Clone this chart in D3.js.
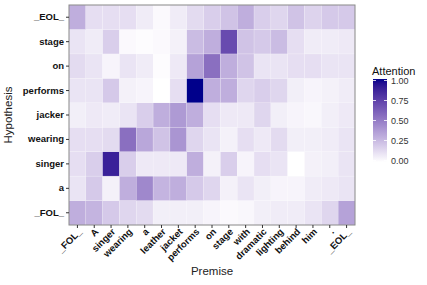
<!DOCTYPE html>
<html>
<head>
<meta charset="utf-8">
<script src="https://cdn.jsdelivr.net/npm/d3@7"></script>
<style>
  body { margin: 0; background: #fff; }
  text { font-family: "Liberation Sans", Arial, sans-serif; }
</style>
</head>
<body>
<div id="chart"></div>
<script>
// premise tokens (x) and hypothesis tokens (y, bottom -> top)
const premise = ["_FOL_", "A", "singer", "wearing", "a", "leather", "jacket", "performs", "on", "stage", "with", "dramatic", "lighting", "behind", "him", ".", "_EOL_"];
const hypothesis = ["_FOL_", "a", "singer", "wearing", "jacker", "performs", "on", "stage", "_EOL_"];

// attention rows, one per hypothesis token, in premise order
const attFOL      = [0.30, 0.28, 0.20, 0.15, 0.13, 0.06, 0.06, 0.06, 0.04, 0.02, 0.03, 0.06, 0.07, 0.07, 0.10, 0.15, 0.35];
const attA        = [0.10, 0.20, 0.05, 0.30, 0.45, 0.28, 0.30, 0.20, 0.15, 0.05, 0.10, 0.06, 0.04, 0.04, 0.07, 0.08, 0.10];
const attSinger   = [0.12, 0.18, 0.88, 0.18, 0.08, 0.08, 0.08, 0.30, 0.05, 0.18, 0.04, 0.12, 0.10, 0.00, 0.05, 0.06, 0.10];
const attWearing  = [0.12, 0.12, 0.13, 0.55, 0.33, 0.22, 0.40, 0.15, 0.10, 0.05, 0.12, 0.08, 0.13, 0.06, 0.06, 0.07, 0.10];
const attJacker   = [0.06, 0.08, 0.07, 0.10, 0.18, 0.30, 0.38, 0.30, 0.12, 0.08, 0.08, 0.15, 0.06, 0.04, 0.03, 0.06, 0.08];
const attPerforms = [0.10, 0.10, 0.20, 0.05, 0.04, 0.00, 0.12, 1.00, 0.30, 0.30, 0.15, 0.18, 0.15, 0.06, 0.04, 0.05, 0.07];
const attOn       = [0.13, 0.10, 0.04, 0.10, 0.07, 0.01, 0.08, 0.35, 0.55, 0.30, 0.22, 0.10, 0.10, 0.12, 0.12, 0.10, 0.10];
const attStage    = [0.10, 0.07, 0.18, 0.02, 0.01, 0.02, 0.05, 0.25, 0.30, 0.70, 0.22, 0.20, 0.25, 0.12, 0.07, 0.07, 0.08];
const attEOL      = [0.30, 0.12, 0.12, 0.12, 0.07, 0.02, 0.07, 0.13, 0.18, 0.22, 0.30, 0.18, 0.15, 0.22, 0.16, 0.20, 0.20];
const rows = [attFOL, attA, attSinger, attWearing, attJacker, attPerforms, attOn, attStage, attEOL];

const legendTicks = [0, 0.25, 0.5, 0.75, 1];

const width = 427, height = 285;
const margin = {left: 69, right: 72, top: 5, bottom: 60};

const svg = d3.select("#chart").append("svg")
  .attr("width", width)
  .attr("height", height);

const x = d3.scaleBand().domain(premise).range([margin.left, width - margin.right]).padding(0);
const y = d3.scaleBand().domain(hypothesis).range([height - margin.bottom, margin.top]).padding(0);
const color = d3.scaleLinear().domain([0, 1]).range(["#ffffff", "#00008b"]).interpolate(d3.interpolateLab);

const cells = [];
rows.forEach((r, i) => r.forEach((v, j) => cells.push({h: hypothesis[i], p: premise[j], v: v})));

svg.append("g").selectAll("rect")
  .data(cells)
  .enter().append("rect")
  .attr("x", d => x(d.p))
  .attr("y", d => y(d.h))
  .attr("width", x.bandwidth())
  .attr("height", y.bandwidth())
  .attr("fill", d => color(d.v))
  .attr("stroke", "#ffffff")
  .attr("stroke-opacity", 0.35)
  .attr("stroke-width", 0.5);

// panel border
svg.append("rect")
  .attr("x", margin.left)
  .attr("y", margin.top)
  .attr("width", width - margin.left - margin.right)
  .attr("height", height - margin.top - margin.bottom)
  .attr("fill", "none")
  .attr("stroke", "#888")
  .attr("stroke-width", 1);

// y axis
const yAxis = svg.append("g")
  .attr("transform", `translate(${margin.left},0)`)
  .call(d3.axisLeft(y).tickSize(3).tickPadding(2));
yAxis.select(".domain").remove();
yAxis.selectAll("line").attr("stroke", "#333");
yAxis.selectAll("text")
  .attr("font-size", 9.5)
  .attr("font-weight", "bold")
  .attr("fill", "#111");

// x axis, labels turned 45 degrees
const xAxis = svg.append("g")
  .attr("transform", `translate(0,${height - margin.bottom})`)
  .call(d3.axisBottom(x).tickSize(3).tickPadding(2));
xAxis.select(".domain").remove();
xAxis.selectAll("line").attr("stroke", "#333");
xAxis.selectAll("text")
  .attr("font-size", 9.5)
  .attr("font-weight", "bold")
  .attr("fill", "#111")
  .attr("text-anchor", "end")
  .attr("x", 0)
  .attr("y", 0)
  .attr("dy", "0.35em")
  .attr("transform", "translate(2.5,5) rotate(-45)");

// axis titles
svg.append("text")
  .attr("x", (margin.left + width - margin.right) / 2)
  .attr("y", 275)
  .attr("text-anchor", "middle")
  .attr("font-size", 11.5)
  .attr("fill", "#222")
  .text("Premise");

svg.append("text")
  .attr("transform", `translate(12,${(margin.top + height - margin.bottom) / 2}) rotate(-90)`)
  .attr("text-anchor", "middle")
  .attr("font-size", 11.5)
  .attr("fill", "#222")
  .text("Hypothesis");

// legend
const lg = {x: 373, top: 79, bottom: 162, w: 14};
const ls = d3.scaleLinear().domain([0, 1]).range([lg.bottom - 1.5, lg.top + 1.5]);

const defs = svg.append("defs");
const grad = defs.append("linearGradient")
  .attr("id", "attgrad")
  .attr("x1", 0).attr("y1", 1).attr("x2", 0).attr("y2", 0);
d3.range(0, 1.0001, 0.05).forEach(t => {
  grad.append("stop").attr("offset", t).attr("stop-color", color(t));
});

svg.append("text")
  .attr("x", lg.x - 1)
  .attr("y", 75)
  .attr("font-size", 11)
  .attr("fill", "#111")
  .text("Attention");

svg.append("rect")
  .attr("x", lg.x)
  .attr("y", lg.top)
  .attr("width", lg.w)
  .attr("height", lg.bottom - lg.top)
  .attr("fill", "url(#attgrad)");

const lt = svg.append("g");
lt.selectAll("line.l")
  .data(legendTicks)
  .enter().append("line")
  .attr("x1", lg.x).attr("x2", lg.x + 3)
  .attr("y1", d => ls(d)).attr("y2", d => ls(d))
  .attr("stroke", "#fff").attr("stroke-opacity", 0.8);
lt.selectAll("line.r")
  .data(legendTicks)
  .enter().append("line")
  .attr("x1", lg.x + lg.w - 3).attr("x2", lg.x + lg.w)
  .attr("y1", d => ls(d)).attr("y2", d => ls(d))
  .attr("stroke", "#fff").attr("stroke-opacity", 0.8);
lt.selectAll("text")
  .data(legendTicks)
  .enter().append("text")
  .attr("x", lg.x + lg.w + 4)
  .attr("y", d => ls(d))
  .attr("dy", "0.35em")
  .attr("font-size", 9)
  .attr("fill", "#333")
  .text(d => d3.format(".2f")(d));
</script>
</body>
</html>
